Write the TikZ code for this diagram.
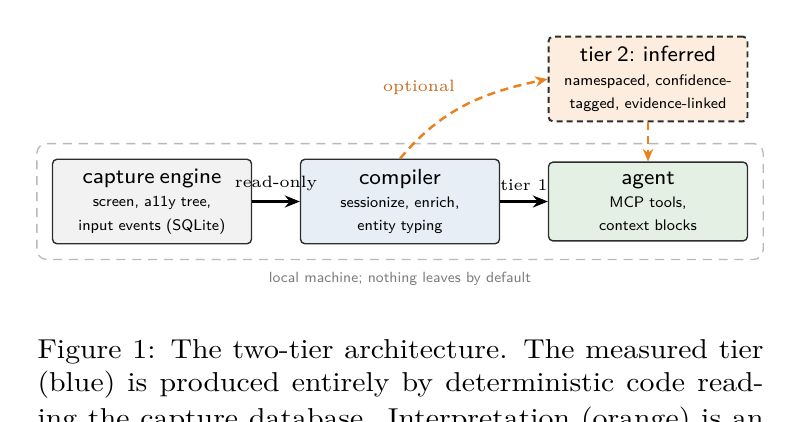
\documentclass[tikz,border=0pt]{standalone}
\usetikzlibrary{arrows.meta,fit}
\definecolor{capfill}{RGB}{242,242,242}
\definecolor{compfill}{RGB}{231,238,245}
\definecolor{agfill}{RGB}{228,240,227}
\definecolor{tiertwofill}{RGB}{252,237,222}
\definecolor{boxline}{RGB}{45,45,45}
\definecolor{orng}{RGB}{234,128,30}
\definecolor{orngtext}{RGB}{200,108,35}
\definecolor{outergray}{RGB}{185,185,185}
\definecolor{notegray}{RGB}{125,125,125}
\newcommand{\boxttl}[1]{{\fontsize{8}{8.5}\selectfont #1}}
\newcommand{\capline}[1]{\scalebox{1.09}[1]{\makebox[243.8pt][s]{#1}}}
\begin{document}
\begin{tikzpicture}[x=0.366pt,y=-0.366pt,
  box/.style={draw=boxline, line width=0.5pt, rounded corners=1.6pt, text width=66pt,
    inner xsep=3.4pt, inner ysep=3.6pt, align=center, font=\sffamily\fontsize{5.6}{8.5}\selectfont},
  arr/.style={-{Stealth[length=5.5pt,width=4.4pt]}, line width=1pt},
  oarr/.style={-{Stealth[length=4.6pt,width=3.8pt]}, line width=0.9pt, draw=orng, dash pattern=on 3pt off 2pt},
  lbl/.style={font=\fontsize{6}{7}\selectfont, inner sep=1pt},
  outerbox/.style={draw=outergray, line width=0.5pt, dash pattern=on 3.3pt off 2.5pt, rounded corners=3.6pt, inner sep=5.5pt},
  note/.style={font=\sffamily\fontsize{5.4}{6.5}\selectfont, text=notegray, inner sep=0pt},
  captext/.style={font=\fontsize{10}{12}\selectfont, inner sep=0pt, anchor=base west},
]
\useasboundingbox (0,0) rectangle (800,421);
\node[box, fill=capfill] (cap) at (152,201.5) {\boxttl{capture engine}\\screen, a11y tree,\\input events (SQLite)};
\node[box, fill=compfill] (comp) at (400,201.5) {\boxttl{compiler}\\sessionize, enrich,\\entity typing};
\node[box, fill=agfill] (agent) at (648,201.5) {\boxttl{agent}\\MCP tools,\\context blocks};
\node[box, fill=tiertwofill, dash pattern=on 2.2pt off 1.5pt, line width=0.7pt] (t2) at (648,79) {\boxttl{tier 2: inferred}\\namespaced, confidence-\\tagged, evidence-linked};
\node[outerbox, fit=(cap)(comp)(agent)] (outer) {};
\node[note, anchor=base] (note) at (400,282) {local machine; nothing leaves by default};
\draw[arr] (cap) -- node[lbl, above=2.4pt] {read-only} (comp);
\draw[arr] (comp) -- node[lbl, above=2.4pt] {tier 1} (agent);
\draw[oarr] (comp.north) to[out=50,in=192] (t2.west);
\node[lbl, text=orngtext, anchor=base] (optlbl) at (419,91) {optional};
\draw[oarr] (t2) -- (agent);
\node[captext] (capa) at (37,358.5) {\capline{Figure 1: The two-tier architecture. The measured tier}};
\node[captext] (capb) at (37,391.5) {\capline{(blue) is produced entirely by deterministic code read-}};
\node[captext] (capc) at (37,427) {\capline{ing the capture database. Interpretation (orange) is an}};
\end{tikzpicture}
\end{document}
